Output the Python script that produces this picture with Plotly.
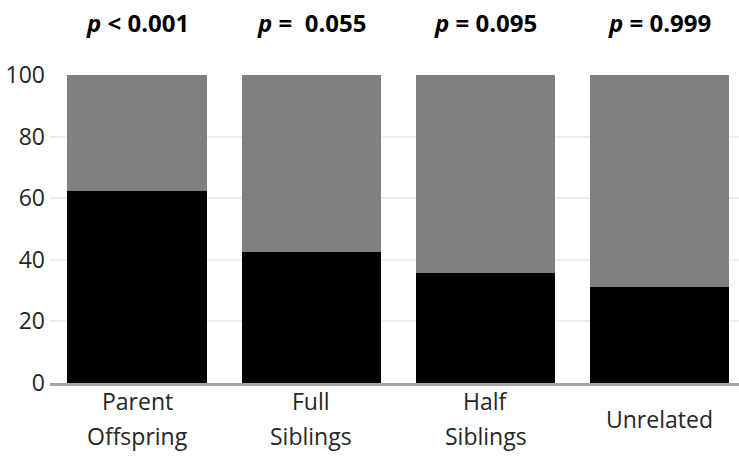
import plotly.graph_objects as go

# Relationship categories (each list item is one label line)
categories = ["Parent Offspring", "Full Siblings", "Half Siblings", "Unrelated"]
label_lines = [["Parent", "Offspring"], ["Full", "Siblings"], ["Half", "Siblings"], ["Unrelated"]]

# Percentage shares per category (black lower segment, gray remainder)
share_black = [62.4, 42.4, 35.7, 31.3]
share_gray = [37.6, 57.6, 64.3, 68.7]

# Significance labels shown above each bar
p_labels = ["<i>p</i> < 0.001", "<i>p</i> =  0.055", "<i>p</i> = 0.095", "<i>p</i> = 0.999"]

y_ticks = [0, 20, 40, 60, 80, 100]

FONT = "Open Sans"
TEXT_COLOR = "#262626"
PLOT_TOP = 75
PLOT_BOTTOM = 383.4

fig = go.Figure()
fig.add_bar(x=categories, y=share_black, marker=dict(color="#000000", line=dict(width=0)),
            showlegend=False, hoverinfo="skip")
fig.add_bar(x=categories, y=share_gray, marker=dict(color="#808080", line=dict(width=0)),
            showlegend=False, hoverinfo="skip")

annotations = []
# p-value labels above the plot area
for cat, lab in zip(categories, p_labels):
    annotations.append(dict(x=cat, xref="x", y=1, yref="paper", yanchor="middle",
                            yshift=PLOT_TOP - 22.5, text=f"<b>{lab}</b>", showarrow=False,
                            font=dict(family=FONT, size=24, color="#000000")))
# category labels, centred vertically below the axis
line_gap = 35.5
block_mid = 419
for cat, lines in zip(categories, label_lines):
    n = len(lines)
    for i, ln in enumerate(lines):
        offset = block_mid + (i - (n - 1) / 2) * line_gap - PLOT_BOTTOM
        annotations.append(dict(x=cat, xref="x", y=0, yref="paper", yanchor="middle",
                                yshift=-offset, text=ln, showarrow=False,
                                font=dict(family=FONT, size=23, color=TEXT_COLOR)))

fig.update_layout(
    barmode="stack",
    bargap=0.2,
    width=739,
    height=457,
    margin=dict(l=50, r=0, t=75, b=74),
    paper_bgcolor="white",
    plot_bgcolor="white",
    font=dict(family=FONT, size=23, color=TEXT_COLOR),
    annotations=annotations,
    xaxis=dict(
        range=[-0.5, 3.455],
        showticklabels=False,
        ticks="",
        showgrid=False,
        showline=True,
        linecolor="#a6a6a6",
        linewidth=2.5,
        zeroline=False,
    ),
    yaxis=dict(
        range=[0, 100],
        tickvals=y_ticks,
        ticktext=[str(v) for v in y_ticks],
        ticks="",
        ticklabelstandoff=4,
        showgrid=True,
        gridcolor="#eeeeee",
        gridwidth=1.5,
        zeroline=False,
        showline=False,
        tickfont=dict(family=FONT, size=23, color=TEXT_COLOR),
    ),
)

fig.write_html("out.html")
